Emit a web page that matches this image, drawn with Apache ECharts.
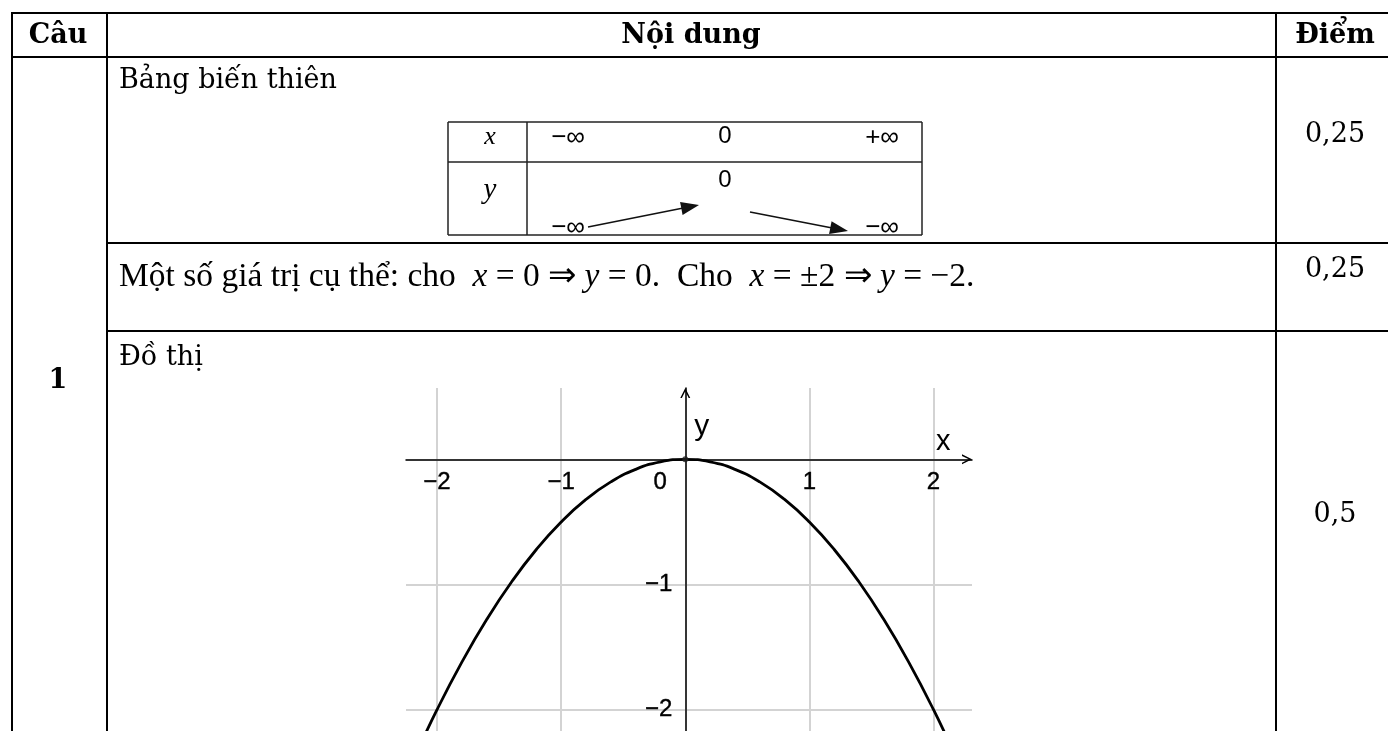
<!DOCTYPE html>
<html><head><meta charset="utf-8">
<script src="https://cdn.jsdelivr.net/npm/echarts@6/dist/echarts.min.js"></script>
<style>html,body{margin:0;padding:0;background:#fff}#c{width:1388px;height:731px}</style>
</head><body><div id="c"></div>
<script>
// ---------- data ----------
const headers = ['Câu', 'Nội dung', 'Điểm'];
const questionNo = '1';
const rowTitles = ['Bảng biến thiên', 'Đồ thị'];
const scores = ['0,25', '0,25', '0,5'];
const varXLabels = ['−∞', '0', '+∞'];
const varYLabels = ['−∞', '0', '−∞'];
const curveX = [-2.2, -2.0, -1.8, -1.6, -1.4, -1.2, -1.0, -0.8, -0.6, -0.4, -0.2, 0, 0.2, 0.4, 0.6, 0.8, 1.0, 1.2, 1.4, 1.6, 1.8, 2.0, 2.2];
const curveY = [-2.42, -2.0, -1.62, -1.28, -0.98, -0.72, -0.5, -0.32, -0.18, -0.08, -0.02, 0, -0.02, -0.08, -0.18, -0.32, -0.5, -0.72, -0.98, -1.28, -1.62, -2.0, -2.42];
const vertex = [0, 0];
const xTickValues = [-2, -1, 0, 1, 2];
const yTickValues = [-1, -2];
const axisNames = ['x', 'y'];

// ---------- layout ----------
const SERIF = '"DejaVu Serif"';
const TIMES = '"Liberation Serif"';
const SANS = '"Liberation Sans"';
const W = 1388, H = 731;
const T = {top: 13, head: 57, r1: 243, r2: 331, left: 12, c1: 107, c2: 1276};

const g = [];
function hline(y, x1, x2, w, c) { g.push({type: 'line', silent: true, shape: {x1: x1, y1: y, x2: x2, y2: y}, style: {stroke: c || '#000', lineWidth: w || 2}}); }
function vline(x, y1, y2, w, c) { g.push({type: 'line', silent: true, shape: {x1: x, y1: y1, x2: x, y2: y2}, style: {stroke: c || '#000', lineWidth: w || 2}}); }
function txt(x, y, s, font, align, extra) {
  const st = Object.assign({text: s, font: font, fill: '#000', align: align || 'center', verticalAlign: 'middle', textAlign: align || 'center', textVerticalAlign: 'middle'}, extra || {});
  g.push({type: 'text', silent: true, x: x, y: y, style: st});
}
function arrow(x1, y1, x2, y2) {
  const dx = x2 - x1, dy = y2 - y1, L = Math.hypot(dx, dy), ux = dx / L, uy = dy / L;
  const hl = 18, hw = 6.5;
  const bx = x2 - ux * hl, by = y2 - uy * hl;
  g.push({type: 'line', silent: true, shape: {x1: x1, y1: y1, x2: bx + ux * 2, y2: by + uy * 2}, style: {stroke: '#111', lineWidth: 1.5}});
  g.push({type: 'polygon', silent: true, shape: {points: [[x2, y2], [bx - uy * hw, by + ux * hw], [bx + uy * hw, by - ux * hw]]}, style: {fill: '#111'}});
}

// main table
hline(T.top, T.left - 1, W);
hline(T.head, T.left - 1, W);
hline(T.r1, T.c1, W);
hline(T.r2, T.c1, W);
vline(T.left, T.top - 1, H);
vline(T.c1, T.top - 1, H);
vline(T.c2, T.top - 1, H);

const bold = 'bold 27px ' + SERIF;
const norm = '27px ' + SERIF;
txt(58, 36, headers[0], bold);
txt(691, 36, headers[1], bold);
txt(1335, 36, headers[2], bold);
txt(58, 381, questionNo, bold);
txt(119, 81, rowTitles[0], norm, 'left');
txt(119, 358, rowTitles[1], norm, 'left');
txt(1335, 135, scores[0], norm);
txt(1335, 270, scores[1], norm);
txt(1335, 515, scores[2], norm);

// row 2 sentence (mixed upright / italic math)
txt(119, 277, '{n|Một số giá trị cụ thể: cho  }{i|x}{n| = 0 ⇒ }{i|y}{n| = 0.  Cho  }{i|x}{n| = ±2 ⇒ }{i|y}{n| = −2.}', '33.5px ' + TIMES, 'left', {
  rich: {
    n: {fontFamily: 'Liberation Serif', fontSize: 33.5, fill: '#000'},
    i: {fontFamily: 'Liberation Serif', fontSize: 33.5, fontStyle: 'italic', fill: '#000'}
  }
});

// variation table
const V = {l: 448, c: 527, r: 922, t: 122, m: 162, b: 235};
hline(V.t, V.l, V.r, 1.5, '#222');
hline(V.m, V.l, V.r, 1.5, '#222');
hline(V.b, V.l, V.r, 1.5, '#222');
vline(V.l, V.t, V.b, 1.5, '#222');
vline(V.c, V.t, V.b, 1.5, '#222');
vline(V.r, V.t, V.b, 1.5, '#222');
txt(490, 137, 'x', 'italic 26px ' + TIMES);
txt(490, 190, 'y', 'italic 29px ' + TIMES);
const vxPos = [568, 725, 882];
txt(vxPos[0], 138, varXLabels[0], '26px ' + SANS);
txt(vxPos[1], 136, varXLabels[1], '24px ' + SANS);
txt(vxPos[2], 138, varXLabels[2], '26px ' + SANS);
txt(vxPos[0], 228, varYLabels[0], '26px ' + SANS);
txt(vxPos[1], 180, varYLabels[1], '24px ' + SANS);
txt(vxPos[2], 228, varYLabels[2], '26px ' + SANS);
arrow(588, 227, 699, 205);
arrow(750, 212, 848, 231);

// ---------- chart ----------
const chevron = 'path://M0,10 L5,0 L10,10 L8.4,10 L5,3.2 L1.6,10 Z';
const minus = v => String(v).replace('-', '−');
const lblFont = {color: '#000', fontFamily: 'Liberation Sans', fontSize: 24, fontWeight: 'normal', opacity: 1, textBorderColor: '#000', textBorderWidth: 0.4};

const option = {
  animation: false,
  backgroundColor: '#fff',
  grid: {left: 406, top: 388, width: 566, height: 343, containLabel: false, outerBoundsMode: 'none'},
  xAxis: {
    type: 'value', min: -2.25, max: 2.31, splitNumber: 5, minInterval: 1, maxInterval: 1,
    name: axisNames[0], nameLocation: 'end', nameGap: -36,
    nameTextStyle: {fontFamily: 'Liberation Sans', fontSize: 29, color: '#000', align: 'left', verticalAlign: 'bottom', padding: [0, 0, 3, 0]},
    axisLine: {onZero: true, lineStyle: {color: '#000', width: 1.5}, symbol: ['none', chevron], symbolSize: [13, 10], symbolOffset: [0, -5]},
    axisTick: {show: false},
    axisLabel: {show: false},
    splitLine: {show: true, showMinLine: false, showMaxLine: false, lineStyle: {color: '#d3d3d3', width: 2}}
  },
  yAxis: {
    type: 'value', min: -2.17, max: 0.57, splitNumber: 3, minInterval: 1, maxInterval: 1,
    name: axisNames[1], nameLocation: 'end', nameGap: -39,
    nameTextStyle: {fontFamily: 'Liberation Sans', fontSize: 30, color: '#000', align: 'left', verticalAlign: 'middle', padding: [0, 0, 0, 9]},
    axisLine: {onZero: true, lineStyle: {color: '#000', width: 1.5}, symbol: ['none', chevron], symbolSize: [13, 10], symbolOffset: [0, -5]},
    axisTick: {show: false},
    axisLabel: {show: false},
    splitLine: {show: true, showMinLine: false, showMaxLine: false, lineStyle: {color: '#d3d3d3', width: 2}}
  },
  series: [
    {type: 'line', data: curveX.map((x, i) => [x, curveY[i]]), smooth: true, showSymbol: false, clip: true,
     lineStyle: {color: '#000', width: 2.8}, z: 5, silent: true},
    {type: 'scatter', data: [vertex], symbolSize: 6, itemStyle: {color: '#222'}, z: 6, silent: true},
    // x tick labels, placed through the axes' scales
    {type: 'scatter', symbolSize: 0, silent: true, z: 7, itemStyle: {color: '#000', opacity: 1},
     data: xTickValues.map(v => ({value: [v, 0], label: v === 0 ? {offset: [-25, 0]} : {}})),
     label: Object.assign({show: true, position: 'bottom', distance: 11, formatter: p => minus(p.value[0])}, lblFont)},
    // y tick labels
    {type: 'scatter', symbolSize: 0, silent: true, z: 7, itemStyle: {color: '#000', opacity: 1},
     data: yTickValues.map(v => [0, v]),
     label: Object.assign({show: true, position: 'left', distance: 13, formatter: p => minus(p.value[1])}, lblFont)}
  ],
  graphic: g
};
const chart = echarts.init(document.getElementById('c'), null, {renderer: 'canvas'});
chart.setOption(option);
</script>
</body></html>
